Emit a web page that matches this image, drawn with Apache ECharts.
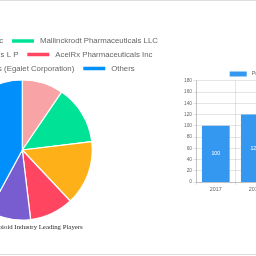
<!DOCTYPE html>
<html>
<head>
<meta charset="utf-8">
<script src="https://cdn.jsdelivr.net/npm/echarts@6/dist/echarts.min.js"></script>
<style>
html,body{margin:0;padding:0;width:256px;height:256px;overflow:hidden;background:#fff;}
#c{position:absolute;left:-250px;top:0;width:706px;height:256px;}
</style>
</head>
<body>
<div id="c"></div>
<script>
// Data
const playerNames = ['Endo Pharmaceuticals Inc', 'Mallinckrodt Pharmaceuticals LLC', 'Purdue Pharmaceuticals L P', 'AcelRx Pharmaceuticals Inc', 'Zyla Life Sciences (Egalet Corporation)', 'Others'];
const playerShares = [9.5, 13.6, 14.9, 10.1, 9.8, 42.1];
const playerColors = ['#F8A3A5', '#00E396', '#FEB019', '#FF4560', '#775DD0', '#008FFB'];
const years = ['2017', '2018', '2019', '2020', '2021'];
const production = [100, 120, 135, 150, 170];
const barSeriesName = 'Production';
const pieTitle = 'Global Opioid Industry Leading Players';

const OFF = 250, W = 706;
const chart = echarts.init(document.getElementById('c'), null, {renderer: 'canvas'});

function legendRow(names, rightEdge, centerY) {
  return {
    data: names,
    orient: 'horizontal',
    right: W - (rightEdge + OFF),
    top: centerY - 4,
    padding: 0,
    itemWidth: 24,
    itemHeight: 5.5,
    itemGap: 7,
    icon: 'rect',
    selectedMode: false,
    textStyle: {fontFamily: 'Liberation Sans', fontSize: 7.8, color: '#666', lineHeight: 8, padding: [0,0,0,0]}
  };
}

const option = {
  animation: false,
  title: {
    text: pieTitle,
    right: W - (82.7 + OFF),
    top: 223.6,
    padding: 0,
    textStyle: {fontFamily: 'Liberation Serif', fontSize: 6.8, fontWeight: 'normal', color: '#2a2a2a', lineHeight: 7.4}
  },
  legend: [
    legendRow([playerNames[0], playerNames[1]], 157.9, 41),
    legendRow([playerNames[2], playerNames[3]], 152.4, 54.6),
    legendRow([playerNames[4], playerNames[5]], 134.7, 68.6),
    {
      data: [barSeriesName],
      left: 229.7 + OFF,
      top: 71,
      padding: 0,
      itemWidth: 17,
      itemHeight: 5,
      icon: 'rect',
      selectedMode: false,
      textStyle: {fontFamily: 'Liberation Sans', fontSize: 5.4, color: '#666', lineHeight: 6}
    }
  ],
  grid: {left: 196.3 + OFF, top: 80.7, width: 39 * years.length, bottom: 74, containLabel: false},
  xAxis: {
    type: 'category',
    data: years,
    boundaryGap: true,
    axisLine: {show: true, lineStyle: {color: 'rgba(0,0,0,0.15)', width: 1}},
    axisTick: {show: true, length: 3, lineStyle: {color: 'rgba(0,0,0,0.1)'}},
    splitLine: {show: true, lineStyle: {color: 'rgba(0,0,0,0.1)', width: 1}},
    axisLabel: {fontFamily: 'Liberation Sans', fontSize: 5.4, color: '#666', margin: 5}
  },
  yAxis: {
    type: 'value',
    min: 0, max: 180, interval: 20,
    axisLine: {show: true, lineStyle: {color: 'rgba(0,0,0,0.15)', width: 1}},
    axisTick: {show: true, length: 3, lineStyle: {color: 'rgba(0,0,0,0.1)'}},
    splitLine: {show: true, lineStyle: {color: 'rgba(0,0,0,0.1)', width: 1}},
    axisLabel: {fontFamily: 'Liberation Sans', fontSize: 4.8, color: '#666', margin: 4.3}
  },
  series: [
    {
      type: 'pie',
      center: [22.3 + OFF, 150],
      radius: [0, 70],
      startAngle: 90,
      clockwise: true,
      label: {show: false},
      labelLine: {show: false},
      emphasis: {disabled: true},
      itemStyle: {borderColor: '#fff', borderWidth: 1.2},
      data: playerNames.map((n, i) => ({name: n, value: playerShares[i], itemStyle: {color: playerColors[i]}}))
    },
    {
      type: 'bar',
      name: barSeriesName,
      data: production,
      barWidth: '71%',
      itemStyle: {color: '#3498F0'},
      emphasis: {disabled: true},
      label: {show: true, position: 'inside', color: '#fff', fontFamily: 'Liberation Sans', fontSize: 5.2}
    }
  ],
  graphic: [
    {type: 'rect', shape: {x: 0, y: 0, width: W, height: 1}, style: {fill: '#ddd'}, silent: true},
    {type: 'rect', shape: {x: 0, y: 254, width: W, height: 1}, style: {fill: '#ddd'}, silent: true}
  ]
};
chart.setOption(option);
</script>
</body>
</html>
